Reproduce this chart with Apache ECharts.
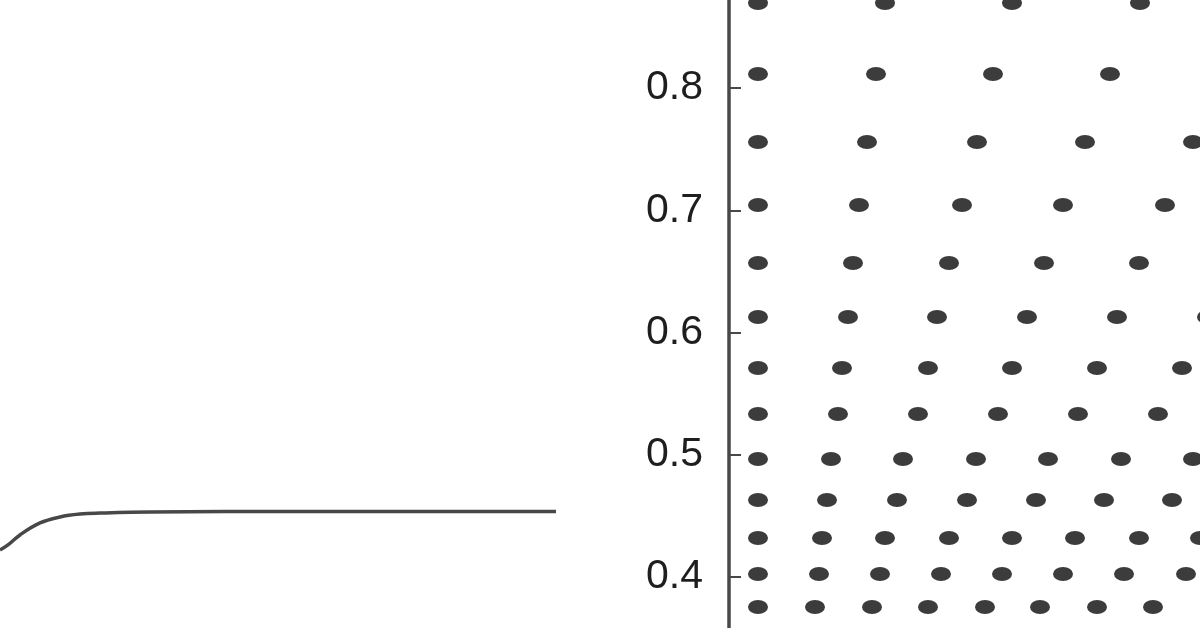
<!DOCTYPE html>
<html>
<head>
<meta charset="utf-8">
<script src="https://cdn.jsdelivr.net/npm/echarts@6/dist/echarts.min.js"></script>
<style>
html,body{margin:0;padding:0;background:#fff;}
#c{width:1200px;height:628px;}
</style>
</head>
<body>
<div id="c"></div>
<script>
// Left panel curve (x in px-like units, y on same scale as right axis)
var curveX = [0, 8, 20, 40, 60, 80, 100, 150, 300, 556];
var curveY = [0.4221, 0.4262, 0.4344, 0.4442, 0.4491, 0.4515, 0.4523, 0.4532, 0.4536, 0.4536];

// Right panel: dot rows (y value) and x positions in each row
var rowY = [0.8695, 0.8115, 0.7558, 0.7043, 0.6569, 0.6127, 0.5710, 0.5333, 0.4965, 0.4630, 0.4319, 0.4025, 0.3755];
var rowA = [29, 156, 283, 411];
var rowB = [29, 147, 264, 381];
var rowC = [29, 138, 248, 356, 464];
var rowD = [29, 130, 233, 334, 436];
var rowE = [29, 124, 220, 315, 410];
var rowF = [29, 119, 208, 298, 388, 478];
var rowG = [29, 113, 199, 283, 368, 453];
var rowH = [29, 109, 189, 269, 349, 429];
var rowI = [29, 102, 174, 247, 319, 392, 464];
var rowJ = [29, 98, 168, 238, 307, 375, 443];
var rowK = [29, 93, 156, 220, 283, 346, 410, 471];
var rowL = [29, 90, 151, 212, 273, 334, 395, 457];
var rowM = [29, 86, 143, 199, 256, 311, 368, 424];
var rowsX = [rowA, rowB, rowC, rowD, rowE, rowF, rowG, rowH, rowI, rowJ, rowK, rowL, rowM];

var yTicks = [0.3, 0.4, 0.5, 0.6, 0.7, 0.8, 0.9];

var dots = [];
rowsX.forEach(function (xs, i) {
  xs.forEach(function (x) { dots.push([x, rowY[i]]); });
});
var curve = curveX.map(function (x, i) { return [x, curveY[i]]; });

var GRID_TOP = -34.25, GRID_H = 733.5;
var ink = '#484848';

var chart = echarts.init(document.getElementById('c'), null, {renderer: 'canvas'});
chart.setOption({
  backgroundColor: '#ffffff',
  animation: false,
  grid: [
    {left: 0, top: GRID_TOP, width: 556, height: GRID_H, containLabel: false, outerBoundsMode: 'none'},
    {left: 729, top: GRID_TOP, width: 500, height: GRID_H, containLabel: false, outerBoundsMode: 'none'}
  ],
  xAxis: [
    {gridIndex: 0, type: 'value', min: 0, max: 556, show: false},
    {gridIndex: 1, type: 'value', min: 0, max: 500, show: false}
  ],
  yAxis: [
    {gridIndex: 0, type: 'value', min: 0.3, max: 0.9, show: false},
    {
      gridIndex: 1, type: 'value', min: yTicks[0], max: yTicks[yTicks.length - 1], interval: 0.1,
      axisLine: {show: true, onZero: false, lineStyle: {color: ink, width: 3.5}},
      axisTick: {show: true, inside: true, length: 12, lineStyle: {color: ink, width: 2}},
      splitLine: {show: false},
      axisLabel: {
        margin: 26, fontSize: 41, color: '#1e1e1e',
        fontFamily: 'Liberation Sans, Arial, sans-serif',
        formatter: function (v) { return v.toFixed(1); }
      }
    }
  ],
  series: [
    {
      type: 'line', xAxisIndex: 0, yAxisIndex: 0, data: curve,
      smooth: 0.4, showSymbol: false, symbol: 'none',
      lineStyle: {color: ink, width: 3.5}
    },
    {
      type: 'scatter', xAxisIndex: 1, yAxisIndex: 1, data: dots,
      symbol: 'circle', symbolSize: [20, 14],
      itemStyle: {color: '#3c3c3c', opacity: 1}
    }
  ]
});
</script>
</body>
</html>
